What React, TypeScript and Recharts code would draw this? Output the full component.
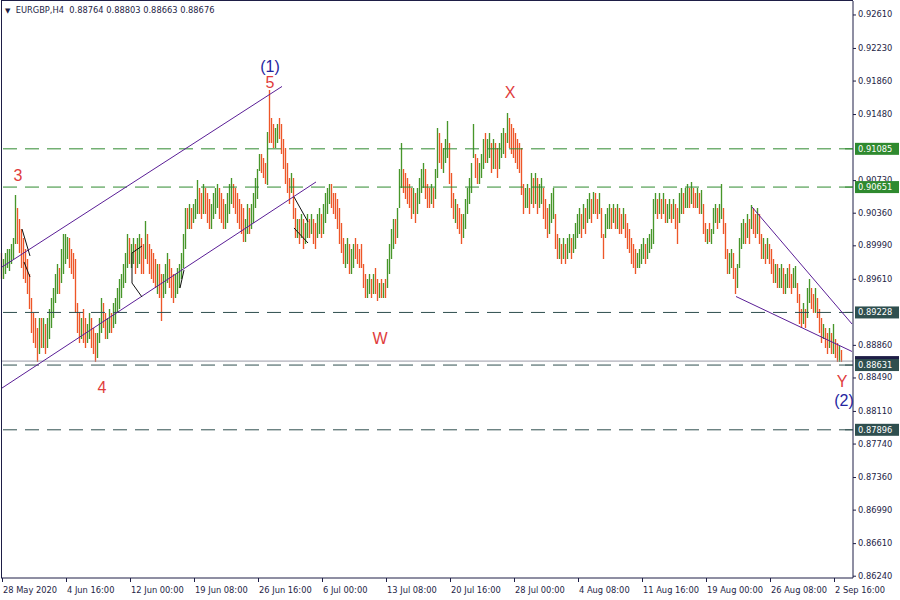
import {
  ComposedChart, Bar, XAxis, YAxis, ReferenceLine, ReferenceDot,
} from 'recharts'

// EURGBP H4 bars, prices in pips (x 1e-4)
const highs = [
  8990, 8984, 8990, 8995, 8995, 9001, 9007, 9056, 9041, 9029,
  9018, 9007, 8995, 8984, 8967, 8939, 8922, 8916, 8905, 8916,
  8916, 8916, 8910, 8916, 8927, 8939, 8950, 8967, 8978, 8973,
  8995, 9012, 9012, 9009, 9007, 8995, 8990, 8984, 8933, 8922,
  8916, 8927, 8916, 8910, 8922, 8916, 8905, 8899, 8899, 8916,
  8939, 8933, 8922, 8916, 8927, 8922, 8933, 8939, 8950, 8961,
  8967, 8978, 8990, 9012, 9007, 9001, 9007, 9001, 9007, 9012,
  9007, 9001, 9027, 9012, 9001, 8995, 8990, 8984, 8978, 8978,
  8967, 8967, 8978, 8990, 8984, 8973, 8967, 8967, 8973, 8978,
  8990, 9012, 9041, 9041, 9046, 9041, 9046, 9052, 9073, 9064,
  9058, 9069, 9064, 9058, 9052, 9046, 9058, 9064, 9069, 9064,
  9058, 9052, 9046, 9058, 9069, 9075, 9069, 9064, 9058, 9052,
  9046, 9041, 9029, 9046, 9041, 9046, 9058, 9075, 9086, 9103,
  9103, 9098, 9092, 9128, 9175, 9143, 9137, 9132, 9137, 9143,
  9137, 9120, 9109, 9092, 9075, 9081, 9075, 9041, 9029, 9029,
  9035, 9029, 9024, 9035, 9029, 9035, 9029, 9024, 9035, 9041,
  9035, 9046, 9058, 9064, 9069, 9069, 9058, 9058, 9052, 9041,
  9024, 9007, 9001, 9007, 9001, 8995, 9001, 9007, 9001, 8995,
  9001, 8978, 8967, 8961, 8967, 8961, 8967, 8973, 8961, 8956,
  8961, 8956, 8961, 8984, 9001, 9018, 9029, 9029, 9041, 9086,
  9115, 9086, 9081, 9075, 9069, 9064, 9064, 9058, 9064, 9075,
  9086, 9092, 9086, 9069, 9064, 9069, 9064, 9086, 9132, 9126,
  9115, 9109, 9120, 9140, 9115, 9081, 9058, 9052, 9046, 9041,
  9035, 9035, 9052, 9064, 9075, 9092, 9137, 9103, 9098, 9092,
  9103, 9120, 9126, 9120, 9126, 9115, 9120, 9115, 9109, 9115,
  9126, 9132, 9126, 9149, 9143, 9137, 9132, 9126, 9120, 9115,
  9109, 9069, 9064, 9069, 9064, 9081, 9075, 9081, 9075, 9069,
  9075, 9064, 9052, 9041, 9046, 9058, 9064, 9035, 9012, 9007,
  9001, 9007, 9001, 9007, 9012, 9007, 9012, 9024, 9035, 9041,
  9035, 9046, 9041, 9052, 9058, 9052, 9060, 9058, 9052, 9058,
  9041, 9012, 9035, 9041, 9046, 9041, 9046, 9041, 9046, 9041,
  9035, 9041, 9035, 9024, 9018, 9007, 9001, 8995, 8990, 8995,
  9001, 9007, 9001, 9007, 9012, 9018, 9052, 9058, 9052, 9058,
  9052, 9058, 9052, 9046, 9052, 9046, 9052, 9046, 9041, 9058,
  9064, 9058, 9064, 9069, 9064, 9071, 9064, 9058, 9064, 9058,
  9062, 9046, 9024, 9018, 9024, 9018, 9041, 9046, 9041, 9046,
  9069, 9041, 9024, 8995, 8990, 8995, 8990, 8973, 8978, 9007,
  9024, 9029, 9024, 9035, 9029, 9045, 9041, 9035, 9041, 9035,
  9012, 9007, 9001, 9007, 9001, 8995, 8984, 8978, 8978, 8973,
  8978, 8973, 8967, 8973, 8978, 8967, 8973, 8975, 8956, 8944,
  8927, 8933, 8927, 8950, 8961, 8950, 8944, 8950, 8939, 8927,
  8916, 8910, 8905, 8899, 8905, 8899, 8910, 8893, 8888, 8885,
  8880,
]

const lows = [
  8961, 8961, 8967, 8973, 8970, 8978, 8984, 9001, 9001, 8990,
  8973, 8961, 8956, 8944, 8927, 8899, 8888, 8882, 8866, 8876,
  8882, 8882, 8876, 8882, 8893, 8905, 8916, 8933, 8944, 8944,
  8956, 8967, 8978, 8984, 8973, 8967, 8961, 8922, 8899, 8888,
  8893, 8888, 8882, 8888, 8893, 8882, 8876, 8866, 8871, 8888,
  8899, 8905, 8893, 8893, 8899, 8899, 8905, 8910, 8922, 8927,
  8939, 8950, 8956, 8973, 8978, 8973, 8978, 8967, 8973, 8978,
  8967, 8967, 8984, 8978, 8967, 8961, 8956, 8950, 8944, 8939,
  8913, 8939, 8944, 8956, 8950, 8939, 8933, 8939, 8944, 8950,
  8961, 8973, 8995, 9018, 9018, 9018, 9024, 9029, 9035, 9035,
  9029, 9035, 9035, 9024, 9018, 9018, 9029, 9035, 9041, 9029,
  9024, 9018, 9018, 9024, 9035, 9046, 9041, 9035, 9024, 9018,
  9012, 9003, 9003, 9012, 9012, 9018, 9024, 9041, 9052, 9083,
  9081, 9075, 9069, 9067, 9115, 9115, 9109, 9109, 9115, 9120,
  9103, 9086, 9069, 9058, 9046, 9058, 9029, 9007, 9007, 9001,
  9007, 8995, 9001, 9007, 9007, 9012, 9001, 8995, 9007, 9012,
  9007, 9012, 9024, 9035, 9046, 9041, 9035, 9029, 9018, 9001,
  8990, 8978, 8973, 8978, 8967, 8967, 8973, 8984, 8978, 8973,
  8973, 8950, 8939, 8939, 8944, 8939, 8944, 8944, 8936, 8939,
  8939, 8939, 8939, 8950, 8967, 8984, 8995, 9001, 9007, 9041,
  9064, 9058, 9052, 9046, 9041, 9029, 9035, 9024, 9035, 9046,
  9058, 9064, 9052, 9041, 9041, 9046, 9041, 9052, 9075, 9092,
  9086, 9081, 9092, 9098, 9069, 9041, 9029, 9024, 9018, 9012,
  9001, 9007, 9018, 9035, 9046, 9058, 9098, 9075, 9069, 9069,
  9075, 9086, 9092, 9092, 9098, 9081, 9086, 9086, 9075, 9086,
  9098, 9103, 9098, 9115, 9109, 9103, 9098, 9092, 9086, 9081,
  9056, 9035, 9041, 9041, 9035, 9046, 9041, 9046, 9035, 9041,
  9046, 9029, 9018, 9007, 9012, 9024, 9029, 8995, 8984, 8984,
  8978, 8984, 8978, 8984, 8990, 8984, 8990, 8995, 9007, 9012,
  9007, 9018, 9012, 9024, 9029, 9024, 9035, 9035, 9029, 9035,
  9007, 8984, 9007, 9018, 9018, 9018, 9024, 9018, 9018, 9012,
  9012, 9018, 9007, 8995, 8990, 8978, 8973, 8967, 8973, 8973,
  8978, 8984, 8978, 8984, 8990, 8995, 9001, 9035, 9029, 9035,
  9029, 9035, 9024, 9024, 9029, 9024, 9029, 9018, 9001, 9024,
  9035, 9035, 9041, 9041, 9041, 9046, 9041, 9041, 9041, 9035,
  9035, 9012, 9003, 9001, 9003, 9001, 9012, 9024, 9018, 9024,
  9029, 9012, 8984, 8967, 8967, 8973, 8961, 8944, 8950, 8973,
  8995, 9001, 9001, 9007, 9001, 9018, 9012, 9007, 9012, 9001,
  8984, 8984, 8978, 8984, 8978, 8967, 8956, 8956, 8950, 8950,
  8950, 8944, 8944, 8950, 8950, 8944, 8950, 8950, 8933, 8910,
  8905, 8910, 8905, 8916, 8933, 8927, 8922, 8922, 8916, 8899,
  8888, 8893, 8882, 8876, 8882, 8876, 8876, 8871, 8866, 8866,
  8866,
]

// u = bull bar, d = bear bar
const dirs = [
  'duuuuuuudd', 'dddddddddu', 'duduuuuuud', 'uuuudddddd', 'udduuddduu',
  'udduuduuuu', 'uuuuduuduu', 'ddudddddud', 'duuuddduuu', 'uuududuuud',
  'duddduuuud', 'dduuuudddd', 'dduuduuuuu', 'ddduddduud', 'ddddduddud',
  'uduududduu', 'duuuuddddd', 'dduuduuddd', 'ddduududdu', 'duduuuuduu',
  'uddddduduu', 'uuddduduud', 'duuudddudd', 'duuuuuuddu', 'uuduududdu',
  'uududddddd', 'dduudududu', 'uddduuuddu', 'duduuduuuu', 'duduududdu',
  'dduuududud', 'dudddddduu', 'uuduuuuudu', 'duduududdu', 'uduududdud',
  'udduduuudu', 'uddduudduu', 'uudududdud', 'dududddudu', 'uduudduudd',
  'duduuddudd', 'duddududdu', 'd',
].join('')

const SLOTS = 426 // includes the empty chart shift on the right

const timeTickIdx = [0, 32, 64, 96, 128, 160, 192, 224, 256, 288, 320, 352, 384, 416]
const timeLabels = [
  '28 May 2020', '4 Jun 16:00', '12 Jun 00:00', '19 Jun 08:00', '26 Jun 16:00',
  '6 Jul 00:00', '13 Jul 08:00', '20 Jul 16:00', '28 Jul 00:00', '4 Aug 08:00',
  '11 Aug 16:00', '19 Aug 00:00', '26 Aug 08:00', '2 Sep 16:00',
]

const priceTicks = [
  0.9261, 0.9223, 0.9186, 0.9148, 0.9073, 0.9036, 0.8999, 0.8961,
  0.8886, 0.8849, 0.8811, 0.8774, 0.8736, 0.8699, 0.8661, 0.8624,
]

const bidPrice = 0.88676
const levelPrices = [0.91085, 0.90651, 0.89228, 0.88631, 0.87896]
const levelKinds = ['green', 'green', 'slate', 'slate', 'slate']

// channel / wedge lines: [startIdx, startPrice, endIdx, endPrice]
const trendLines = [
  [0, 0.89744, 140, 0.91793],
  [0, 0.8837, 157, 0.90709],
  [375, 0.90425, 425, 0.89097],
  [367, 0.89409, 425, 0.88785],
]

// small black wave sketches
const sketchLines = [
  [10, 0.90175, 14, 0.89869],
  [11, 0.89801, 14, 0.89631],
  [65, 0.89903, 70, 0.89982],
  [65, 0.89903, 65, 0.89562],
  [65, 0.89562, 70, 0.89403],
  [89, 0.89505, 91, 0.89709],
  [146, 0.90539, 153, 0.90255],
  [146, 0.90187, 153, 0.90016],
]

const waveText = ['(1)', '5', '3', '4', 'W', 'X', 'Y', '(2)']
const waveIdx = [134, 134, 8, 50, 189, 254, 420, 421]
const wavePrice = [0.92025, 0.91844, 0.90788, 0.88381, 0.88938, 0.9173, 0.8845, 0.88234]
const waveMajor = [true, false, false, false, false, false, false, true]

const UP = '#47962a'
const DOWN = '#ee5628'
const INK = '#1e1e46'
const PURPLE = '#5a1e96'
const GREEN = '#2f8a2f'
const SLATE = '#2f4f4f'
const FONT = '"DejaVu Sans", sans-serif'

const data = Array.from({ length: SLOTS }, (_, i) => ({
  i,
  range: i < highs.length ? [lows[i] / 10000, highs[i] / 10000] : null,
  up: dirs[i] === 'u',
}))

const boxPrices = [bidPrice, ...levelPrices]
const boxFills = [INK, ...levelKinds.map((k) => (k === 'green' ? GREEN : SLATE))]

function Stick(props: any) {
  const { x, y, width, height, payload } = props
  if (!payload || !payload.range) return null
  const cx = Math.round(x + width / 2) - 0.5
  const top = Math.min(y, y + height)
  const bottom = Math.max(y, y + height)
  return (
    <line
      x1={cx}
      x2={cx}
      y1={Math.round(top)}
      y2={Math.max(Math.round(top) + 1, Math.round(bottom))}
      stroke={payload.up ? UP : DOWN}
      strokeWidth={1.35}
    />
  )
}

function TimeTick({ x, y, payload }: any) {
  const k = timeTickIdx.indexOf(payload.value)
  return (
    <g>
      <line x1={x + 0.5} x2={x + 0.5} y1={y} y2={y + 4} stroke={INK} />
      <text x={x + 1} y={y + 15} fontSize={8.3} fontFamily={FONT} fill={INK}>
        {timeLabels[k]}
      </text>
    </g>
  )
}

function PriceTick({ x, y, payload }: any) {
  const v = payload.value
  const b = boxPrices.indexOf(v)
  if (b === 0) {
    // bid marker, almost fully covered by the 0.88631 box
    return <rect x={x + 2} y={y - 5} width={44} height={8} fill={INK} />
  }
  if (b > 0) {
    return (
      <g>
        <line x1={x - 8} x2={x} y1={y} y2={y} stroke={boxFills[b]} />
        <rect x={x + 2} y={y - 6} width={44} height={12} fill={boxFills[b]} />
        <text x={x + 5} y={y + 3} fontSize={8.3} fontFamily={FONT} fill="#ffffff">
          {v.toFixed(5)}
        </text>
      </g>
    )
  }
  return (
    <g>
      <line x1={x} x2={x + 3} y1={y + 0.5} y2={y + 0.5} stroke={INK} />
      <text x={x + 5} y={y + 3} fontSize={8.3} fontFamily={FONT} fill={INK}>
        {v.toFixed(5)}
      </text>
    </g>
  )
}

export default function App() {
  return (
    <div style={{ position: 'fixed', left: 0, top: 0, width: 900, height: 600, background: '#fff' }}>
      <ComposedChart
        width={900}
        height={600}
        data={data}
        margin={{ top: 1, right: 0, bottom: 0, left: 1 }}
        barCategoryGap={0}
      >
        <XAxis
          dataKey="i"
          ticks={timeTickIdx}
          interval={0}
          tick={<TimeTick />}
          tickLine={false}
          tickSize={0}
          tickMargin={0}
          height={22}
          axisLine={{ stroke: INK }}
        />
        <YAxis
          orientation="right"
          type="number"
          domain={[0.86214, 0.92763]}
          allowDataOverflow
          ticks={[...priceTicks, ...boxPrices]}
          interval={0}
          tick={<PriceTick />}
          tickLine={false}
          tickSize={0}
          tickMargin={0}
          width={47}
          axisLine={{ stroke: INK }}
        />
        {levelPrices.map((p, k) => (
          <ReferenceLine
            key={'lv' + k}
            y={p}
            stroke={levelKinds[k] === 'green' ? GREEN : SLATE}
            strokeDasharray="14 8"
          />
        ))}
        <ReferenceLine y={bidPrice} stroke="#9a9aa6" />
        <Bar dataKey="range" shape={<Stick />} isAnimationActive={false} />
        {trendLines.map((t, k) => (
          <ReferenceLine
            key={'tl' + k}
            segment={[{ x: t[0], y: t[1] }, { x: t[2], y: t[3] }]}
            stroke={PURPLE}
          />
        ))}
        {sketchLines.map((t, k) => (
          <ReferenceLine
            key={'sk' + k}
            segment={[{ x: t[0], y: t[1] }, { x: t[2], y: t[3] }]}
            stroke="#111"
          />
        ))}
        {waveText.map((w, k) => (
          <ReferenceDot
            key={'wv' + k}
            x={waveIdx[k]}
            y={wavePrice[k]}
            r={0}
            fill="none"
            stroke="none"
            label={{
              value: w,
              position: 'center',
              fill: waveMajor[k] ? '#2424a0' : '#e03c3c',
              fontSize: 16,
              fontFamily: '"Liberation Sans", Arial, sans-serif',
            }}
          />
        ))}
      </ComposedChart>
      <div
        style={{
          position: 'absolute', left: 1, top: 0, width: 852, height: 578,
          borderLeft: `1px solid ${INK}`, borderTop: `1px solid ${INK}`,
          pointerEvents: 'none', boxSizing: 'border-box',
        }}
      />
      <div
        style={{
          position: 'absolute', left: 5, top: 4, fontSize: 8.3, fontFamily: FONT,
          color: INK, whiteSpace: 'pre', lineHeight: '12px',
        }}
      >
        <span style={{ fontSize: 7 }}>▼</span>
        {'  EURGBP,H4  0.88764 0.88803 0.88663 0.88676'}
      </div>
    </div>
  )
}
